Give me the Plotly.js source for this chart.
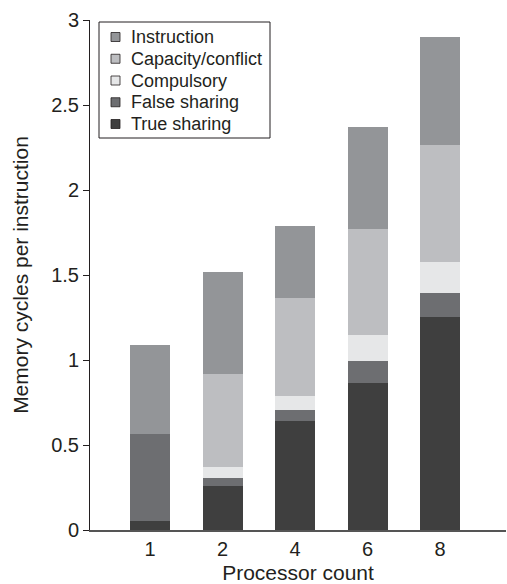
<!DOCTYPE html>
<html><head><meta charset="utf-8">
<script src="https://cdn.plot.ly/plotly-3.0.1.min.js"></script>
<style>html,body{margin:0;padding:0;background:#fff;}#chart{width:507px;height:584px;}</style>
</head><body><div id="chart"></div>
<script>
const categories = ['1', '2', '4', '6', '8'];
const trueSharing = [0.053, 0.26, 0.641, 0.865, 1.253];
const falseSharing = [0.512, 0.046, 0.065, 0.129, 0.141];
const compulsory = [0, 0.065, 0.084, 0.153, 0.182];
const capacityConflict = [0, 0.547, 0.575, 0.623, 0.689];
const instruction = [0.523, 0.6, 0.425, 0.6, 0.635];

const series = [
  {name: 'True sharing', y: trueSharing, color: '#3f3f3f'},
  {name: 'False sharing', y: falseSharing, color: '#6d6e71'},
  {name: 'Compulsory', y: compulsory, color: '#e6e7e8'},
  {name: 'Capacity/conflict', y: capacityConflict, color: '#bdbec1'},
  {name: 'Instruction', y: instruction, color: '#939598'}
];

const traces = series.map(s => ({
  type: 'bar', name: s.name, x: categories, y: s.y,
  marker: {color: s.color, line: {width: 0}}, showlegend: false
}));

// Plot area in pixels (matches margins below)
const W = 507, H = 584, M = {l: 90, r: 1, t: 20, b: 54};
const pw = W - M.l - M.r, ph = H - M.t - M.b;
const px = x => (x - M.l) / pw;
const py = y => (H - M.b - y) / ph;

const font = 'Liberation Sans, Arial, Helvetica, sans-serif';
const ink = '#231f20';

// Hand-built legend (tighter line spacing than Plotly's built-in legend)
const shapes = [{
  type: 'rect', xref: 'paper', yref: 'paper',
  x0: px(99), x1: px(270), y0: py(138), y1: py(22),
  line: {color: ink, width: 1}, fillcolor: '#fff', layer: 'above'
}];
const annotations = [];
series.slice().reverse().forEach((s, i) => {
  const cy = 37 + i * 21.75;
  shapes.push({
    type: 'rect', xref: 'paper', yref: 'paper',
    x0: px(111), x1: px(120), y0: py(cy + 4.5), y1: py(cy - 4.5),
    line: {color: ink, width: 0.8}, fillcolor: s.color, layer: 'above'
  });
  annotations.push({
    xref: 'paper', yref: 'paper', x: px(129), y: py(cy),
    xanchor: 'left', yanchor: 'middle', showarrow: false,
    text: s.name, font: {family: font, size: 18, color: ink}
  });
});

const layout = {
  width: W, height: H, margin: M,
  paper_bgcolor: '#fff', plot_bgcolor: '#fff',
  barmode: 'stack', bargap: 0.45,
  font: {family: font, size: 18, color: ink},
  showlegend: false,
  shapes: shapes, annotations: annotations,
  xaxis: {
    type: 'category', range: [-0.83, 4.91],
    showline: true, linecolor: '#555', linewidth: 1.5,
    ticks: '', showgrid: false, zeroline: false,
    tickfont: {size: 20}, automargin: false,
    title: {text: 'Processor count', font: {size: 21}, standoff: 9}
  },
  yaxis: {
    range: [0, 3], tickvals: [0, 0.5, 1, 1.5, 2, 2.5, 3],
    ticktext: ['0', '0.5', '1', '1.5', '2', '2.5', '3'],
    showline: true, linecolor: ink, linewidth: 1,
    ticks: 'outside', ticklen: 6, tickcolor: ink,
    showgrid: false, zeroline: false, automargin: false,
    tickfont: {size: 20},
    title: {text: 'Memory cycles per instruction', font: {size: 21}, standoff: 16}
  }
};

Plotly.newPlot('chart', traces, layout, {displayModeBar: false, staticPlot: true});
</script></body></html>
